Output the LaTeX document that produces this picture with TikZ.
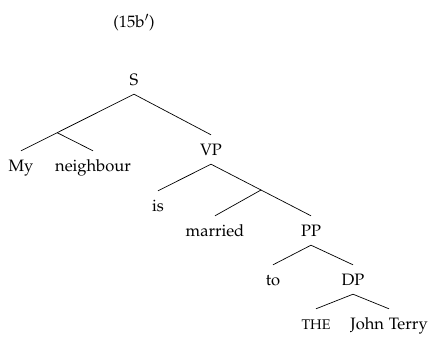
\documentclass[tikz,border=0pt]{standalone}
\usepackage[T1]{fontenc}
\usepackage[sc]{mathpazo}
\usepackage{tikz}
\usetikzlibrary{calc, positioning}

\tikzset{
    lbl/.style={anchor=base, inner xsep=0pt, inner ysep=9pt, text height=11pt, text depth=0pt, font=\fontsize{16.5}{19}\selectfont},
    br/.style={line width=0.7pt}
}

\begin{document}
\begin{tikzpicture}[x=1pt, y=-1pt]
                \useasboundingbox (0,0) rectangle (431,337);

                \node[font=\fontsize{16.5}{19}\selectfont] (ex) at (134, 23) {(15b$'$)};

                \node[lbl] (s) at (134, 85) {S};
                \node[lbl] (my) at (21, 171) {My};
                \node[lbl] (nbr) at (93, 171) {neighbour};
                \node[lbl] (vp) at (211, 155) {VP};
                \node[lbl] (is) at (158, 211) {is};
                \node[lbl] (mar) at (215, 236) {married};
                \node[lbl] (pp) at (311, 236) {PP};
                \node[lbl] (to) at (273, 285) {to};
                \node[lbl] (dp) at (353, 285) {DP};
                \node[lbl] (the) at (316, 329) {\fontsize{14}{16}\selectfont THE};
                \node[lbl] (jt) at (389, 329) {John Terry};

                % branching points without a label
                \coordinate (np) at ($(s.south)!0.68!(my.north)$);
                \coordinate (vbar) at ($(vp.south)!0.5!(pp.north)$);

                \draw[br] (s.south) -- (my.north);
                \draw[br] (np) -- (nbr.north);
                \draw[br] (s.south) -- (vp.north);
                \draw[br] (vp.south) -- (is.north);
                \draw[br] (vp.south) -- (pp.north);
                \draw[br] (vbar) -- (mar.north);
                \draw[br] (pp.south) -- (to.north);
                \draw[br] (pp.south) -- (dp.north);
                \draw[br] (dp.south) -- (the.north);
                \draw[br] (dp.south) -- (jt.north);
            \end{tikzpicture}
\end{document}
